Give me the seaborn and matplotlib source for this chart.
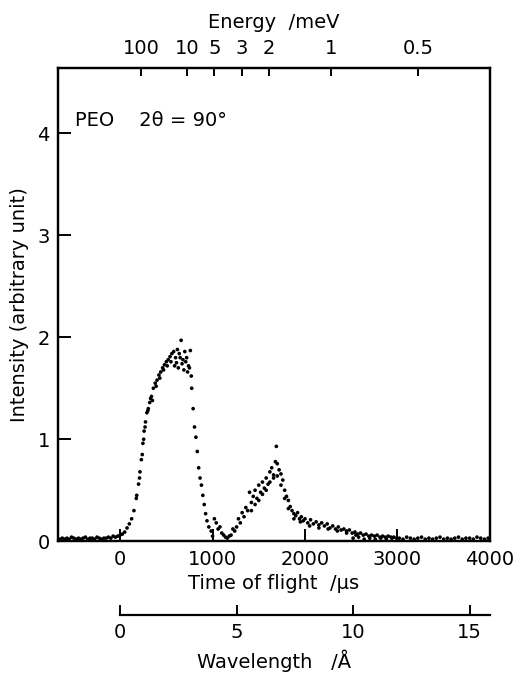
import matplotlib
matplotlib.use("Agg")
import matplotlib.pyplot as plt
import seaborn as sns
import numpy as np
import pandas as pd

# ---- data ----
tof_base = [-650, -625, -600, -575, -550, -525, -500, -475, -450, -425, -400, -375, -350, -325,
            -300, -275, -250, -225, -200, -175, -150, -125, -100, -75, -50, -25]
int_base = [0.02, 0.03, 0.02, 0.03, 0.02, 0.04, 0.03, 0.02, 0.03, 0.02, 0.03, 0.04, 0.02, 0.03,
            0.03, 0.02, 0.04, 0.03, 0.02, 0.03, 0.03, 0.04, 0.03, 0.05, 0.04, 0.05]

tof_peak1 = [0, 25, 50, 75, 100, 125, 150, 175, 200, 215, 230, 247, 260, 275, 290, 305, 320, 340,
             360, 380, 400, 420, 440, 460, 480, 500, 520, 540, 560, 580, 600, 620, 640, 660, 680,
             700, 720, 740, 760, 775, 790, 805, 820, 835, 850, 865, 880, 895, 910, 925, 940, 960,
             985, 1000,
             180, 210, 240, 255, 270, 300, 330, 350, 390, 430, 470, 510, 550, 590, 610, 630, 650,
             670, 690, 710, 730, 750, 770]
int_peak1 = [0.06, 0.07, 0.09, 0.13, 0.17, 0.22, 0.30, 0.42, 0.56, 0.68, 0.80, 0.96, 1.08, 1.17,
             1.26, 1.30, 1.36, 1.42, 1.50, 1.55, 1.58, 1.63, 1.66, 1.70, 1.73, 1.76, 1.78, 1.81,
             1.84, 1.86, 1.80, 1.88, 1.84, 1.97, 1.78, 1.86, 1.80, 1.72, 1.87, 1.50, 1.30, 1.12,
             1.02, 0.88, 0.72, 0.62, 0.55, 0.45, 0.36, 0.27, 0.20, 0.14, 0.10, 0.05,
             0.45, 0.62, 0.85, 1.00, 1.12, 1.28, 1.40, 1.38, 1.52, 1.60, 1.68, 1.72, 1.76, 1.72,
             1.75, 1.70, 1.80, 1.74, 1.68, 1.76, 1.66, 1.70, 1.62]

tof_peak2 = [1020, 1040, 1060, 1080, 1100, 1120, 1140, 1160, 1180, 1200, 1220, 1240, 1260, 1280,
             1300, 1320, 1340, 1360, 1380, 1400, 1420, 1440, 1460, 1480, 1500, 1520, 1540, 1560,
             1580, 1600, 1620, 1640, 1660, 1680, 1690, 1700, 1720, 1740, 1760, 1780, 1800, 1820,
             1840, 1860, 1880, 1900, 1920, 1940, 1960, 1980, 2000, 2030, 2060, 2090, 2120, 2150,
             2180, 2210, 2240, 2270, 2300, 2330, 2360, 2390, 2420, 2450, 2480, 2510, 2540, 2570,
             2600, 2630, 2660, 2690, 2720, 2750, 2780, 2810, 2840, 2870, 2900, 2930, 2960, 2990,
             1420, 1460, 1500, 1540, 1580, 1620, 1660, 1700, 1740, 1780, 1820, 1880, 1950, 2050,
             2150, 2250, 2350, 2450, 2550, 2520, 2580, 2640, 2700, 2760, 2820, 2880, 2940]
int_peak2 = [0.22, 0.18, 0.12, 0.14, 0.08, 0.06, 0.04, 0.03, 0.05, 0.06, 0.12, 0.10, 0.14, 0.22,
             0.18, 0.28, 0.24, 0.33, 0.30, 0.48, 0.38, 0.44, 0.50, 0.42, 0.55, 0.48, 0.58, 0.52,
             0.62, 0.56, 0.68, 0.72, 0.65, 0.78, 0.93, 0.76, 0.70, 0.66, 0.60, 0.50, 0.44, 0.40,
             0.34, 0.30, 0.27, 0.25, 0.28, 0.22, 0.24, 0.20, 0.22, 0.18, 0.21, 0.17, 0.19, 0.16,
             0.18, 0.15, 0.17, 0.13, 0.15, 0.12, 0.14, 0.11, 0.12, 0.10, 0.11, 0.08, 0.09, 0.07,
             0.08, 0.06, 0.07, 0.05, 0.06, 0.05, 0.06, 0.04, 0.05, 0.04, 0.05, 0.04, 0.04, 0.03,
             0.30, 0.36, 0.40, 0.46, 0.50, 0.58, 0.62, 0.64, 0.55, 0.42, 0.32, 0.22, 0.19, 0.15,
             0.13, 0.12, 0.10, 0.08, 0.06, 0.03, 0.04, 0.02, 0.03, 0.02, 0.03, 0.02, 0.03]

tof_tail = [3020, 3060, 3100, 3140, 3180, 3220, 3260, 3300, 3340, 3380, 3420, 3460, 3500, 3540,
            3580, 3620, 3660, 3700, 3740, 3780, 3820, 3860, 3900, 3940, 3980]
int_tail = [0.03, 0.02, 0.04, 0.03, 0.02, 0.03, 0.04, 0.02, 0.03, 0.02, 0.03, 0.04, 0.02, 0.03,
            0.02, 0.03, 0.04, 0.02, 0.03, 0.03, 0.02, 0.04, 0.03, 0.02, 0.03]

tof_ticks = [0, 1000, 2000, 3000, 4000]
int_ticks = [0, 1, 2, 3, 4]
energy_ticks = [100, 10, 5, 3, 2, 1, 0.5]
energy_labels = ["100", "10", "5", "3", "2", "1", "0.5"]
wl_ticks = [0, 5, 10, 15]

US_PER_ANGSTROM = 252.0   # flight-path conversion time -> wavelength
E_LAMBDA = 81.81          # E[meV] = 81.81 / lambda[A]^2

df = pd.DataFrame({
    "tof": tof_base + tof_peak1 + tof_peak2 + tof_tail,
    "intensity": int_base + int_peak1 + int_peak2 + int_tail,
})

# ---- figure ----
sns.set_style("ticks")
plt.rcParams["font.family"] = ["DejaVu Sans"]
plt.rcParams["axes.linewidth"] = 1.6
for k in ["text.color", "axes.labelcolor", "xtick.color", "ytick.color", "axes.edgecolor"]:
    plt.rcParams[k] = "black"
FS = 14

fig = plt.figure(figsize=(5.19, 6.74), dpi=100)
ax = fig.add_axes([0.112, 0.197, 0.832, 0.702])

sns.scatterplot(data=df, x="tof", y="intensity", ax=ax, color="black", s=7,
                edgecolor="none", linewidth=0, legend=False)

xmin, xmax = -670, 4000
ax.set_xlim(xmin, xmax)
ax.set_ylim(0, 4.64)
ax.set_xticks(tof_ticks)
ax.set_yticks(int_ticks)
ax.tick_params(axis="both", direction="in", length=9, width=1.4, labelsize=FS, pad=6,
               colors="black")
ax.set_xlabel("Time of flight  /µs", fontsize=FS, labelpad=4, color="black")
ax.set_ylabel("Intensity (arbitrary unit)", fontsize=FS, labelpad=6, color="black")
for s in ax.spines.values():
    s.set_color("black")
    s.set_linewidth(1.6)

ax.text(0.04, 0.89, "PEO    2θ = 90°", transform=ax.transAxes, fontsize=FS,
        ha="left", va="center", color="black")

# top energy axis
top = ax.twiny()
top.set_xlim(xmin, xmax)
e_pos = [US_PER_ANGSTROM * np.sqrt(E_LAMBDA / e) for e in energy_ticks]
top.set_xticks(e_pos)
top.set_xticklabels(energy_labels)
top.tick_params(axis="x", direction="in", length=6, width=1.4, labelsize=FS, pad=7,
                colors="black")
top.set_xlabel("Energy  /meV", fontsize=FS, labelpad=8, color="black")
for s in top.spines.values():
    s.set_color("black")
    s.set_linewidth(1.6)

# wavelength axis below
wl = fig.add_axes([0.112, 0.0875, 0.832, 0.001])
wl.set_xlim(xmin / US_PER_ANGSTROM, xmax / US_PER_ANGSTROM)
wl.set_ylim(0, 1)
for side in ["top", "left", "right"]:
    wl.spines[side].set_visible(False)
wl.spines["bottom"].set_bounds(0, xmax / US_PER_ANGSTROM)
wl.spines["bottom"].set_linewidth(1.6)
wl.spines["bottom"].set_color("black")
wl.set_yticks([])
wl.set_xticks(wl_ticks)
wl.tick_params(axis="x", direction="in", length=7, width=1.4, labelsize=FS, pad=6,
               colors="black")
wl.set_xlabel("Wavelength   /Å", fontsize=FS, labelpad=5, color="black")
wl.patch.set_visible(False)

fig.savefig("out.png", dpi=100)
